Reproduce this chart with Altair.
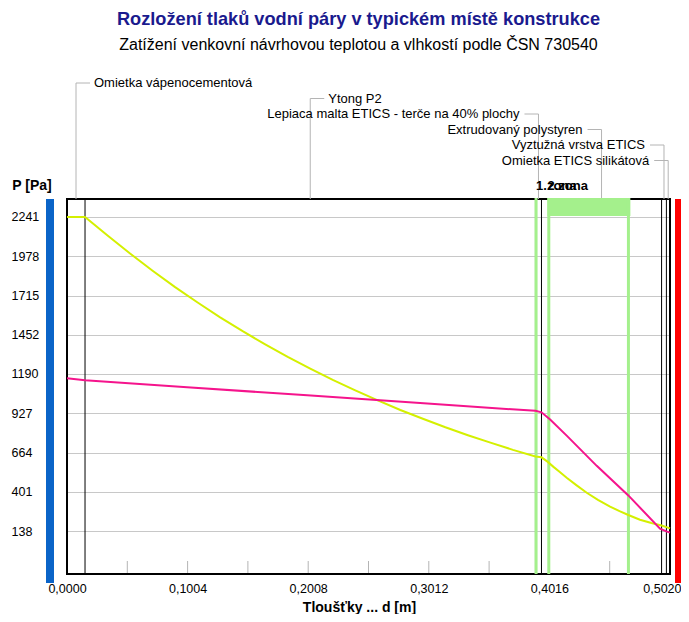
import altair as alt
import pandas as pd

# ---------------- data ----------------
title_text = "Rozložení tlaků vodní páry v typickém místě konstrukce"
subtitle_text = "Zatížení venkovní návrhovou teplotou a vlhkostí podle ČSN 730540"
x_title = "Tloušťky ... d [m]"
y_title = "P [Pa]"

layer_names = [
    "Omietka vápenocementová",
    "Ytong P2",
    "Lepiaca malta ETICS - terče na 40% plochy",
    "Extrudovaný polystyren",
    "Vyztužná vrstva ETICS",
    "Omietka ETICS silikátová",
]
layer_thickness = [0.015, 0.375, 0.005, 0.100, 0.004, 0.003]
label_side = ["right", "right", "left", "left", "left", "left"]

x_tick_values = [0.0, 0.1004, 0.2008, 0.3012, 0.4016, 0.5020]
y_tick_values = [138, 401, 664, 927, 1190, 1452, 1715, 1978, 2241]
minor_tick_values = [0.0502, 0.1004, 0.1506, 0.2008, 0.2510, 0.3012, 0.3514, 0.4016, 0.4518]

# saturated water vapour pressure (yellow)
sat_x = [0.000, 0.015, 0.03375, 0.0525, 0.07125, 0.090, 0.10875, 0.1275, 0.14625, 0.165,
         0.18375, 0.2025, 0.22125, 0.240, 0.25875, 0.2775, 0.29625, 0.315, 0.33375, 0.3525,
         0.37125, 0.390, 0.395, 0.400, 0.405, 0.410, 0.416, 0.424, 0.4327, 0.442, 0.4521,
         0.460, 0.4673, 0.477, 0.4865, 0.495, 0.499, 0.502]
sat_p = [2241, 2240, 2117, 1996, 1881, 1771, 1668, 1569, 1476, 1388,
         1304, 1225, 1150, 1080, 1013, 949, 890, 833, 780, 730,
         682, 638, 632, 603, 568, 535, 495, 446, 395, 347, 302,
         272, 246, 214, 192, 176, 165, 156]

# partial water vapour pressure (pink)
par_x = [0.000, 0.015, 0.100, 0.200, 0.300, 0.390, 0.395, 0.4022, 0.416, 0.441, 0.4673,
         0.4937, 0.499, 0.502]
par_p = [1161, 1148, 1101, 1047, 992, 943, 933, 885, 777, 575, 377,
         155, 136, 128]

# condensation zones
zone_labels = ["1.zona", "2.zona"]
zone_start = [0.3905, 0.4000]
zone_end = [0.3905, 0.4690]
zone_lines = [0.3905, 0.4011, 0.4674]

# ---------------- tables ----------------
X_MAX = 0.502
starts, ends = [], []
acc = 0.0
for t in layer_thickness:
    starts.append(acc)
    acc += t
    ends.append(acc)

layers_df = pd.DataFrame({
    "name": layer_names,
    "start": starts,
    "end": ends,
    "mid": [(s + e) / 2 for s, e in zip(starts, ends)],
    "side": label_side,
})
layers_df["row"] = [-116 + 15.5 * i for i in range(len(layers_df))]
bounds_df = pd.DataFrame({"b": ends[:-1]})

sat_df = pd.DataFrame({"x": sat_x, "p": sat_p})
par_df = pd.DataFrame({"x": par_x, "p": par_p})
zones_df = pd.DataFrame({"label": zone_labels, "start": zone_start, "end": zone_end})
zline_df = pd.DataFrame({"z": zone_lines})
minor_df = pd.DataFrame({"m": minor_tick_values})
one = pd.DataFrame({"k": [0]})

xs = alt.Scale(domain=[0, X_MAX], nice=False, zero=False)
ys = alt.Scale(domain=[-149, 2361], nice=False, zero=False)

FONT = "Liberation Sans"
LEADER = "#b4b4b4"
GREEN = "#a4f08c"

base_x_axis = alt.Axis(
    values=x_tick_values,
    labelExpr="replace(format(datum.value, '.4f'), '.', ',')",
    grid=False, ticks=False, tickSize=0, domain=False,
    labelFlush=False, labelOverlap=False, labelBound=False,
    labelAlign=alt.condition("datum.value > 0.5", alt.value("right"), alt.value("center")),
    labelOffset=alt.condition("datum.value > 0.5", alt.value(11), alt.value(0)),
    labelPadding=8, labelFontSize=12.5, labelFont=FONT, labelColor="black",
    title=x_title, titleFont=FONT, titleFontSize=14, titleFontWeight="bold",
    titleColor="black", titleX=292, titleY=33, titleBaseline="middle",
    titleAlign="center",
)
base_y_axis = alt.Axis(
    values=y_tick_values, format="d", grid=True, gridColor="#c8c8c8", gridWidth=1,
    ticks=False, tickSize=0, domain=False,
    labelAlign="left", labelBaseline="middle", labelPadding=56,
    labelFontSize=12.5, labelFont=FONT, labelColor="black",
    title=y_title, titleAngle=0, titleX=-35.5, titleY=-14,
    titleAlign="center", titleBaseline="middle",
    titleFont=FONT, titleFontSize=14, titleFontWeight="bold", titleColor="black",
)

# grid / axes carrier (invisible points)
axes_layer = alt.Chart(sat_df).mark_point(opacity=0).encode(
    x=alt.X("x:Q", scale=xs, axis=base_x_axis),
    y=alt.Y("p:Q", scale=ys, axis=base_y_axis),
)

minor_layer = alt.Chart(minor_df).mark_rule(color=LEADER, strokeWidth=1).encode(
    x=alt.X("m:Q", scale=xs, axis=None),
    y=alt.value(362), y2=alt.value(375),
)

bounds_layer = alt.Chart(bounds_df).mark_rule(color="black", strokeWidth=1).encode(
    x=alt.X("b:Q", scale=xs, axis=None),
    y=alt.value(0), y2=alt.value(375),
)

frame_layer = alt.Chart(one).mark_rect(filled=False, stroke="black", strokeWidth=2).encode(
    x=alt.value(0), x2=alt.value(603), y=alt.value(0), y2=alt.value(375),
)

vlead = alt.Chart(layers_df).mark_rule(color=LEADER, strokeWidth=1).encode(
    x=alt.X("mid:Q", scale=xs, axis=None),
    y=alt.Y("row:Q", scale=None, axis=None),
    y2=alt.value(0),
)
hlead_r = alt.Chart(layers_df).transform_filter("datum.side == 'right'").mark_rule(
    color=LEADER, strokeWidth=1, x2Offset=14).encode(
    x=alt.X("mid:Q", scale=xs, axis=None), x2="mid:Q",
    y=alt.Y("row:Q", scale=None, axis=None),
)
hlead_l = alt.Chart(layers_df).transform_filter("datum.side == 'left'").mark_rule(
    color=LEADER, strokeWidth=1, xOffset=-14).encode(
    x=alt.X("mid:Q", scale=xs, axis=None), x2="mid:Q",
    y=alt.Y("row:Q", scale=None, axis=None),
)
text_r = alt.Chart(layers_df).transform_filter("datum.side == 'right'").mark_text(
    align="left", baseline="middle", dx=18, font=FONT, fontSize=13, color="black").encode(
    x=alt.X("mid:Q", scale=xs, axis=None),
    y=alt.Y("row:Q", scale=None, axis=None),
    text="name:N",
)
text_l = alt.Chart(layers_df).transform_filter("datum.side == 'left'").mark_text(
    align="right", baseline="middle", dx=-19, font=FONT, fontSize=13, color="black").encode(
    x=alt.X("mid:Q", scale=xs, axis=None),
    y=alt.Y("row:Q", scale=None, axis=None),
    text="name:N",
)

zone_band = alt.Chart(zones_df).mark_rect(color=GREEN).encode(
    x=alt.X("start:Q", scale=xs, axis=None), x2="end:Q",
    y=alt.value(-1), y2=alt.value(17),
)
zone_rules = alt.Chart(zline_df).mark_rule(color=GREEN, strokeWidth=3).encode(
    x=alt.X("z:Q", scale=xs, axis=None),
    y=alt.value(-1), y2=alt.value(375),
)
zone_text = alt.Chart(zones_df).mark_text(
    align="left", baseline="middle", font=FONT, fontSize=13, fontWeight="bold",
    color="black").encode(
    x=alt.X("start:Q", scale=xs, axis=None),
    y=alt.value(-13),
    text="label:N",
)

sat_line = alt.Chart(sat_df).mark_line(color="#d4f000", strokeWidth=2).encode(
    x=alt.X("x:Q", scale=xs, axis=None),
    y=alt.Y("p:Q", scale=ys, axis=None),
)
par_line = alt.Chart(par_df).mark_line(color="#f5148c", strokeWidth=2).encode(
    x=alt.X("x:Q", scale=xs, axis=None),
    y=alt.Y("p:Q", scale=ys, axis=None),
)

blue_bar = alt.Chart(one).mark_rect(color="#0a64c8").encode(
    x=alt.value(-21), x2=alt.value(-13), y=alt.value(0), y2=alt.value(384),
)
red_bar = alt.Chart(one).mark_rect(color="#ff0000").encode(
    x=alt.value(608), x2=alt.value(614), y=alt.value(0), y2=alt.value(384),
)

title_layer = alt.Chart(pd.DataFrame({"t": [title_text]})).mark_text(
    align="center", baseline="middle", font=FONT, fontSize=18.2, fontWeight="bold",
    color="#1a1a8e").encode(
    text="t:N", x=alt.value(291.5), y=alt.value(-179),
)
subtitle_layer = alt.Chart(pd.DataFrame({"t": [subtitle_text]})).mark_text(
    align="center", baseline="middle", font=FONT, fontSize=16, color="black").encode(
    text="t:N", x=alt.value(291.5), y=alt.value(-154),
)

chart = alt.layer(
    axes_layer, minor_layer, bounds_layer, frame_layer,
    vlead, hlead_r, hlead_l, text_r, text_l,
    zone_band, zone_rules, zone_text,
    sat_line, par_line, blue_bar, red_bar,
    title_layer, subtitle_layer,
).resolve_axis(
    x="independent", y="independent"
).properties(
    width=603, height=375,
    padding={"left": 59, "top": 191, "right": 11, "bottom": 40},
    autosize=alt.AutoSizeParams(type="none"),
    background="white",
).configure_view(stroke=None)

chart.save("out.html", embed_options={"renderer": "svg", "actions": False})
